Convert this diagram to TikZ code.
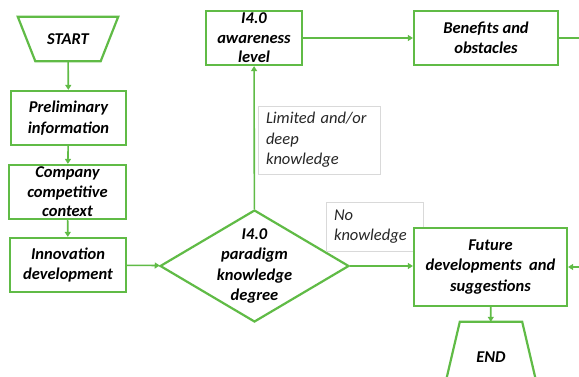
\documentclass[tikz,border=0pt]{standalone}
\usepackage{fontspec}
\setmainfont{Carlito}
\usetikzlibrary{arrows.meta,shapes.geometric}
\definecolor{flowgreen}{RGB}{96,187,70}

\begin{document}
\begin{tikzpicture}[
        x=1pt, y=-1pt,
        box/.style={rectangle, draw=flowgreen, line width=2.2pt, fill=white, align=center, inner sep=0pt,
            font=\fontsize{16.5}{20.5}\selectfont\bfseries\itshape},
        term/.style={rectangle, inner sep=0pt,
            font=\fontsize{16.5}{20.5}\selectfont\bfseries\itshape},
        termline/.style={draw=flowgreen, line width=2.2pt, line join=miter},
        decision/.style={diamond, draw=flowgreen, line width=2.2pt, fill=white, align=center, inner sep=-12pt,
            font=\fontsize{16.5}{20.5}\selectfont\bfseries\itshape},
        note/.style={rectangle, draw=black!15, line width=0.6pt, fill=white, align=left, inner xsep=8pt,
            text=black!85, font=\fontsize{16.5}{20.5}\selectfont\itshape},
        flow/.style={draw=flowgreen, line width=1.6pt, -{Triangle[length=5pt,width=6pt]}}
    ]
    \useasboundingbox (0,0) rectangle (579,377);
    \clip (0,0) rectangle (579,377);

    % left column
    \node[term, minimum width=65, minimum height=44] (start) at (68,39) {START};
    \draw[termline] ([xshift=-17.5]start.north west) -- ([xshift=17.5]start.north east)
        -- (start.south east) -- (start.south west) -- cycle;
    \node[box, minimum width=115, minimum height=54] (prelim) at (68.5,118) {Preliminary\\information};
    \node[box, minimum width=117, minimum height=54, font=\fontsize{16.5}{19.5}\selectfont\bfseries\itshape] (company) at (67.5,192) {Company\\competitive\\context};
    \node[box, minimum width=116, minimum height=54] (innov) at (68,265) {Innovation\\development};

    % decision and labels
    \node[decision, minimum width=189, minimum height=112] (degree) at (254.5,266) {I4.0\\paradigm\\knowledge\\degree};
    \node[note, minimum width=122, minimum height=68, text width=106] (limited) at (319,140) {Limited and/or\\deep\\knowledge};
    \node[note, minimum width=97, minimum height=49, text width=81] (noknow) at (374.5,226.5) {No\\knowledge};

    % top row
    \node[box, minimum width=96, minimum height=54, font=\fontsize{16.5}{19.5}\selectfont\bfseries\itshape] (aware) at (254,38) {I4.0\\awareness\\level};
    \node[box, minimum width=144, minimum height=54] (benefit) at (486,38) {Benefits and\\obstacles};

    % right column
    \node[box, minimum width=153, minimum height=78] (future) at (490.5,267) {Future\\developments~ and\\suggestions};
    \node[term, minimum width=62, minimum height=70] (finish) at (491,357) {END};
    \draw[termline] (finish.north west) -- (finish.north east)
        -- ([xshift=16.5]finish.south east) -- ([xshift=-16.5]finish.south west) -- cycle;

    \draw[flow] (start) -- (prelim);
    \draw[flow] (prelim) -- (company);
    \draw[flow] (company) -- (innov);
    \draw[flow] (innov) -- (degree);
    \draw[flow] (degree) -- (aware);
    \draw[flow] (aware) -- (benefit);
    \draw[flow] (degree.east) -- (degree.east -| future.west);
    \draw[flow] (future) -- (finish);
    \draw[flow] (benefit.east) -- ++(40,0) |- (future.east);
\end{tikzpicture}
\end{document}
